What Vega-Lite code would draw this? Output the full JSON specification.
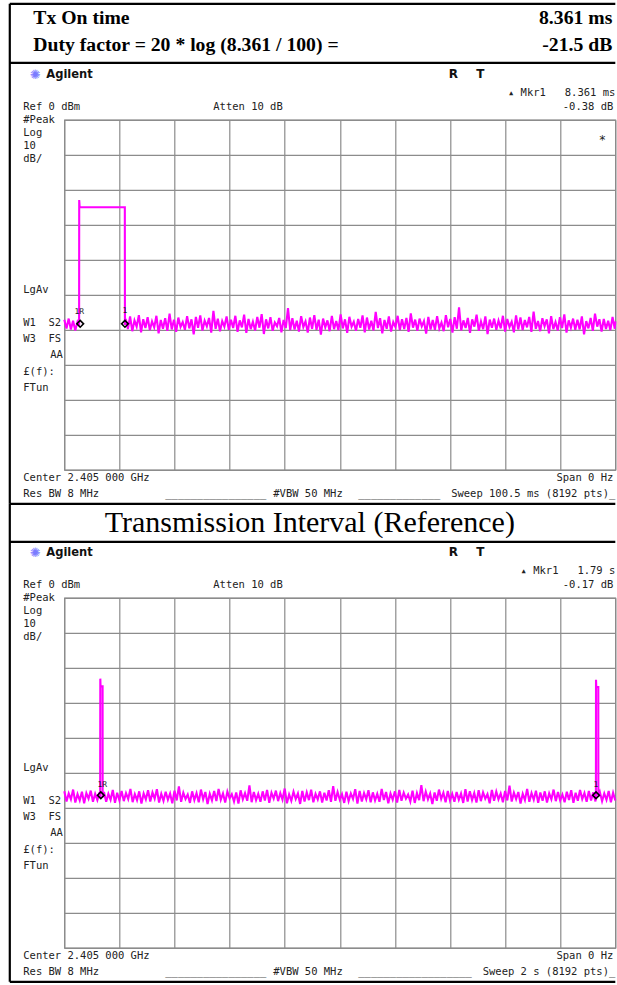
{
"$schema":"https://vega.github.io/schema/vega-lite/v6.json",
"background":"white",
"padding":{"left":7.3,"top":1.8,"right":0,"bottom":0},
"autosize":{"type":"pad"},
"bounds":"flush",
"spacing":128,
"config":{"view":{"stroke":"#8c8c8c","strokeWidth":1.2},"axis":{"grid":true,"gridColor":"#8c8c8c","gridWidth":1.2,"gridOpacity":1,"labels":false,"ticks":false,"domain":false}},
"datasets":{
"b1":[{"t":-9.941,"t2":100.5,"v":33.143,"v2":33.143},{"t":-9.941,"t2":100.5,"v":16.286,"v2":16.286},{"t":-9.941,"t2":-9.941,"v":33.143,"v2":-109.714},{"t":-9.941,"t2":100.5,"v":-109.714,"v2":-109.714}],
"b2":[{"t":-197.82,"t2":2000,"v":16.0,"v2":16.0},{"t":-197.82,"t2":2000,"v":-109.714,"v2":-109.714},{"t":-197.82,"t2":-197.82,"v":26.857,"v2":-109.714}],
"m1":[{"t":2.9,"v":-58.3},{"t":11.06,"v":-58.3}],
"m2":[{"t":132.5,"v":-56.4},{"t":1930,"v":-56.4}],
"a1":[
{"g":"mL","s":"Ref 0 dBm","t":-7.478,"v":3.571},
{"g":"mL","s":"Atten 10 dB","t":27.177,"v":3.571},
{"g":"mL","s":"#Peak","t":-7.478,"v":-0.143},
{"g":"mL","s":"Log","t":-7.478,"v":-3.857},
{"g":"mL","s":"10","t":-7.478,"v":-7.571},
{"g":"mL","s":"dB/","t":-7.478,"v":-11.286},
{"g":"mL","s":"LgAv","t":-7.478,"v":-48.571},
{"g":"mL","s":"W1\u00a0\u00a0S2","t":-7.478,"v":-58.0},
{"g":"mL","s":"W3\u00a0\u00a0FS","t":-7.478,"v":-62.571},
{"g":"mR","s":"AA","t":-0.274,"v":-67.143},
{"g":"mL","s":"£(f):","t":-7.478,"v":-72.0},
{"g":"mL","s":"FTun","t":-7.478,"v":-76.714},
{"g":"mL","s":"Center 2.405 000 GHz","t":-7.478,"v":-102.286},
{"g":"mL","s":"Res BW 8 MHz","t":-7.478,"v":-106.857},
{"g":"mL","s":"________________","t":18.422,"v":-106.857},
{"g":"mL","s":"#VBW 50 MHz","t":38.121,"v":-106.857},
{"g":"mL","s":"_____________","t":53.624,"v":-106.857},
{"g":"mR","s":"▴ Mkr1\u00a0\u00a0\u00a08.361 ms","t":100.5,"v":7.714},
{"g":"mR","s":"-0.38 dB","t":100.135,"v":3.571},
{"g":"mR","s":"Span 0 Hz","t":100.135,"v":-102.286},
{"g":"mR","s":"Sweep 100.5 ms (8192 pts)_","t":100.5,"v":-106.857},
{"g":"ag","s":"Agilent","t":-3.283,"v":12.857},
{"g":"logo","s":"✺","t":-5.290,"v":12.857},
{"g":"rt","s":"R","t":70.952,"v":13.0},
{"g":"rt","s":"T","t":75.876,"v":13.0},
{"g":"ast","s":"*","t":98.129,"v":-5.714},
{"g":"hL","s":"Tx On time","t":-5.654,"v":29.143},
{"g":"hL","s":"Duty factor = 20 * log (8.361 / 100) =","t":-5.654,"v":21.429},
{"g":"hR","s":"8.361 ms","t":99.953,"v":29.143},
{"g":"hR","s":"-21.5 dB","t":99.953,"v":21.429},
{"g":"tiny","s":"1R","t":2.75,"v":-55.0},
{"g":"tiny","s":"1","t":11.06,"v":-54.6}
],
"a2":[
{"g":"mL","s":"Ref 0 dBm","t":-148.82,"v":3.571},
{"g":"mL","s":"Atten 10 dB","t":540.83,"v":3.571},
{"g":"mL","s":"#Peak","t":-148.82,"v":-0.143},
{"g":"mL","s":"Log","t":-148.82,"v":-3.857},
{"g":"mL","s":"10","t":-148.82,"v":-7.571},
{"g":"mL","s":"dB/","t":-148.82,"v":-11.286},
{"g":"mL","s":"LgAv","t":-148.82,"v":-48.571},
{"g":"mL","s":"W1\u00a0\u00a0S2","t":-148.82,"v":-58.0},
{"g":"mL","s":"W3\u00a0\u00a0FS","t":-148.82,"v":-62.571},
{"g":"mR","s":"AA","t":-5.44,"v":-67.143},
{"g":"mL","s":"£(f):","t":-148.82,"v":-72.0},
{"g":"mL","s":"FTun","t":-148.82,"v":-76.714},
{"g":"mL","s":"Center 2.405 000 GHz","t":-148.82,"v":-102.286},
{"g":"mL","s":"Res BW 8 MHz","t":-148.82,"v":-106.857},
{"g":"mL","s":"________________","t":366.61,"v":-106.857},
{"g":"mL","s":"#VBW 50 MHz","t":758.62,"v":-106.857},
{"g":"mL","s":"__________________","t":1067.15,"v":-106.857},
{"g":"mR","s":"▴ Mkr1\u00a0\u00a0\u00a01.79 s","t":2000,"v":7.714},
{"g":"mR","s":"-0.17 dB","t":1992.74,"v":3.571},
{"g":"mR","s":"Span 0 Hz","t":1992.74,"v":-102.286},
{"g":"mR","s":"Sweep 2 s (8192 pts)_","t":2000,"v":-106.857},
{"g":"ag","s":"Agilent","t":-65.34,"v":12.857},
{"g":"logo","s":"✺","t":-105.26,"v":12.857},
{"g":"rt","s":"R","t":1411.98,"v":13.0},
{"g":"rt","s":"T","t":1509.98,"v":13.0},
{"g":"title","s":"Transmission Interval (Reference)","t":891.11,"v":21.429},
{"g":"tiny","s":"1R","t":137.9,"v":-53.4},
{"g":"tiny","s":"1","t":1930,"v":-53.5}
],
"tr1":[
{"t":0,"v":-57.1},{"t":0.4,"v":-59.6},{"t":0.8,"v":-56.8},{"t":1.2,"v":-59.9},{"t":1.6,"v":-57.4},{"t":2.0,"v":-60.2},{"t":2.4,"v":-57.8},
{"t":2.7,"v":-58.8},{"t":2.72,"v":-22.9},{"t":2.8,"v":-25.0},{"t":11.04,"v":-25.0},{"t":11.06,"v":-58.6},
{"t":11.2,"v":-56.9},{"t":11.6,"v":-59.8},{"t":12,"v":-56.2},{"t":12.4,"v":-60.4},{"t":12.8,"v":-57.3},{"t":13.2,"v":-59.1},{"t":13.6,"v":-55.8},{"t":14,"v":-60.7},{"t":14.4,"v":-57.0},{"t":14.8,"v":-59.5},
{"t":15.2,"v":-56.4},{"t":15.6,"v":-60.1},{"t":16,"v":-57.6},{"t":16.4,"v":-59.3},{"t":16.8,"v":-56.0},{"t":17.2,"v":-61.0},{"t":17.6,"v":-57.2},{"t":18,"v":-59.7},{"t":18.4,"v":-56.7},{"t":18.8,"v":-60.3},
{"t":19.2,"v":-55.4},{"t":19.6,"v":-59.9},{"t":20,"v":-57.1},{"t":20.4,"v":-60.6},{"t":20.8,"v":-56.5},{"t":21.2,"v":-59.2},{"t":21.6,"v":-57.8},{"t":22,"v":-60.0},{"t":22.4,"v":-56.1},{"t":22.8,"v":-59.6},
{"t":23.2,"v":-57.0},{"t":23.6,"v":-61.3},{"t":24,"v":-56.3},{"t":24.4,"v":-59.4},{"t":24.8,"v":-55.9},{"t":25.2,"v":-60.2},{"t":25.6,"v":-57.4},{"t":26,"v":-59.0},{"t":26.4,"v":-56.6},{"t":26.8,"v":-60.8},
{"t":27.2,"v":-54.6},{"t":27.6,"v":-59.7},{"t":28,"v":-56.8},{"t":28.4,"v":-60.4},{"t":28.8,"v":-57.5},{"t":29.2,"v":-59.1},{"t":29.6,"v":-56.2},{"t":30,"v":-60.0},{"t":30.4,"v":-57.1},{"t":30.8,"v":-59.5},
{"t":31.2,"v":-56.0},{"t":31.6,"v":-60.6},{"t":32,"v":-57.3},{"t":32.4,"v":-59.3},{"t":32.8,"v":-55.7},{"t":33.2,"v":-60.9},{"t":33.6,"v":-56.9},{"t":34,"v":-59.8},{"t":34.4,"v":-57.7},{"t":34.8,"v":-60.2},
{"t":35.2,"v":-56.3},{"t":35.6,"v":-59.4},{"t":36,"v":-55.5},{"t":36.4,"v":-61.2},{"t":36.8,"v":-57.0},{"t":37.2,"v":-59.6},{"t":37.6,"v":-56.4},{"t":38,"v":-60.3},{"t":38.4,"v":-57.9},{"t":38.8,"v":-59.0},
{"t":39.2,"v":-56.6},{"t":39.6,"v":-60.7},{"t":40,"v":-57.2},{"t":40.4,"v":-59.5},{"t":40.8,"v":-53.8},{"t":41.2,"v":-60.1},{"t":41.6,"v":-56.7},{"t":42,"v":-59.9},{"t":42.4,"v":-57.4},{"t":42.8,"v":-60.5},
{"t":43.2,"v":-56.1},{"t":43.6,"v":-59.2},{"t":44,"v":-57.6},{"t":44.4,"v":-60.8},{"t":44.8,"v":-56.5},{"t":45.2,"v":-59.7},{"t":45.6,"v":-55.8},{"t":46,"v":-60.0},{"t":46.4,"v":-57.1},{"t":46.8,"v":-61.4},
{"t":47.2,"v":-56.8},{"t":47.6,"v":-59.3},{"t":48,"v":-57.3},{"t":48.4,"v":-60.4},{"t":48.8,"v":-56.0},{"t":49.2,"v":-59.8},{"t":49.6,"v":-57.5},{"t":50,"v":-60.1},{"t":50.4,"v":-55.6},{"t":50.8,"v":-59.6},
{"t":51.2,"v":-57.0},{"t":51.6,"v":-60.9},{"t":52,"v":-56.3},{"t":52.4,"v":-59.1},{"t":52.8,"v":-57.7},{"t":53.2,"v":-60.3},{"t":53.6,"v":-56.9},{"t":54,"v":-59.4},{"t":54.4,"v":-55.9},{"t":54.8,"v":-60.7},
{"t":55.2,"v":-56.5},{"t":55.6,"v":-59.9},{"t":56,"v":-57.4},{"t":56.4,"v":-60.2},{"t":56.8,"v":-54.9},{"t":57.2,"v":-59.5},{"t":57.6,"v":-56.7},{"t":58,"v":-61.0},{"t":58.4,"v":-57.2},{"t":58.8,"v":-59.7},
{"t":59.2,"v":-56.2},{"t":59.6,"v":-60.5},{"t":60,"v":-57.8},{"t":60.4,"v":-59.2},{"t":60.8,"v":-56.0},{"t":61.2,"v":-60.1},{"t":61.6,"v":-57.0},{"t":62,"v":-59.8},{"t":62.4,"v":-56.6},{"t":62.8,"v":-60.6},
{"t":63.2,"v":-55.3},{"t":63.6,"v":-59.4},{"t":64,"v":-57.1},{"t":64.4,"v":-60.3},{"t":64.8,"v":-56.8},{"t":65.2,"v":-59.0},{"t":65.6,"v":-57.5},{"t":66,"v":-61.1},{"t":66.4,"v":-56.3},{"t":66.8,"v":-59.9},
{"t":67.2,"v":-57.2},{"t":67.6,"v":-60.0},{"t":68,"v":-56.1},{"t":68.4,"v":-59.6},{"t":68.8,"v":-57.9},{"t":69.2,"v":-60.4},{"t":69.6,"v":-55.8},{"t":70,"v":-59.3},{"t":70.4,"v":-56.9},{"t":70.8,"v":-60.8},
{"t":71.2,"v":-56.4},{"t":71.6,"v":-59.7},{"t":72,"v":-53.6},{"t":72.4,"v":-60.2},{"t":72.8,"v":-57.3},{"t":73.2,"v":-59.5},{"t":73.6,"v":-56.6},{"t":74,"v":-60.9},{"t":74.4,"v":-57.0},{"t":74.8,"v":-59.1},
{"t":75.2,"v":-55.7},{"t":75.6,"v":-60.3},{"t":76,"v":-57.6},{"t":76.4,"v":-59.8},{"t":76.8,"v":-56.2},{"t":77.2,"v":-61.2},{"t":77.6,"v":-57.1},{"t":78,"v":-59.4},{"t":78.4,"v":-56.8},{"t":78.8,"v":-60.0},
{"t":79.2,"v":-57.4},{"t":79.6,"v":-59.6},{"t":80,"v":-56.0},{"t":80.4,"v":-60.5},{"t":80.8,"v":-56.9},{"t":81.2,"v":-59.2},{"t":81.6,"v":-57.7},{"t":82,"v":-60.7},{"t":82.4,"v":-55.9},{"t":82.8,"v":-59.9},
{"t":83.2,"v":-56.5},{"t":83.6,"v":-60.1},{"t":84,"v":-57.2},{"t":84.4,"v":-59.3},{"t":84.8,"v":-56.3},{"t":85.2,"v":-60.6},{"t":85.6,"v":-54.8},{"t":86,"v":-59.7},{"t":86.4,"v":-57.5},{"t":86.8,"v":-60.4},
{"t":87.2,"v":-56.7},{"t":87.6,"v":-59.0},{"t":88,"v":-57.0},{"t":88.4,"v":-61.0},{"t":88.8,"v":-56.1},{"t":89.2,"v":-59.8},{"t":89.6,"v":-57.8},{"t":90,"v":-60.2},{"t":90.4,"v":-56.4},{"t":90.8,"v":-59.5},
{"t":91.2,"v":-55.6},{"t":91.6,"v":-60.8},{"t":92,"v":-57.3},{"t":92.4,"v":-59.4},{"t":92.8,"v":-56.8},{"t":93.2,"v":-60.0},{"t":93.6,"v":-57.1},{"t":94,"v":-59.9},{"t":94.4,"v":-56.2},{"t":94.8,"v":-61.3},
{"t":95.2,"v":-57.5},{"t":95.6,"v":-59.6},{"t":96,"v":-56.6},{"t":96.4,"v":-60.3},{"t":96.8,"v":-55.4},{"t":97.2,"v":-59.1},{"t":97.6,"v":-57.0},{"t":98,"v":-60.5},
{"t":98.4,"v":-56.9},{"t":98.8,"v":-59.8},{"t":99.2,"v":-57.4},{"t":99.6,"v":-60.1},{"t":100,"v":-56.3},{"t":100.4,"v":-59.7},{"t":100.5,"v":-57.6}
],
"tr2":[
{"t":0,"v":-55.3},{"t":8,"v":-58.2},{"t":16,"v":-55.9},{"t":24,"v":-57.6},{"t":32,"v":-54.8},{"t":40,"v":-58.5},{"t":48,"v":-56.1},{"t":56,"v":-57.9},{"t":64,"v":-55.4},{"t":72,"v":-58.7},{"t":80,"v":-55.8},{"t":88,"v":-57.4},{"t":96,"v":-55.1},{"t":104,"v":-58.3},{"t":112,"v":-56.0},{"t":120,"v":-57.8},{"t":128,"v":-55.6},
{"t":130.2,"v":-57.2},{"t":130.7,"v":-23.1},{"t":131.6,"v":-25.3},{"t":139.0,"v":-25.3},{"t":139.2,"v":-57.0},
{"t":144,"v":-55.5},{"t":152,"v":-58.3},{"t":160,"v":-56.0},{"t":168,"v":-57.7},{"t":176,"v":-54.9},{"t":184,"v":-58.6},{"t":192,"v":-55.7},{"t":200,"v":-57.9},{"t":208,"v":-55.2},{"t":216,"v":-58.1},
{"t":224,"v":-55.8},{"t":232,"v":-57.5},{"t":240,"v":-54.6},{"t":248,"v":-58.4},{"t":256,"v":-56.1},{"t":264,"v":-57.8},{"t":272,"v":-55.3},{"t":280,"v":-58.8},{"t":288,"v":-55.9},{"t":296,"v":-57.6},
{"t":304,"v":-55.0},{"t":312,"v":-58.2},{"t":320,"v":-55.6},{"t":328,"v":-57.4},{"t":336,"v":-54.7},{"t":344,"v":-58.5},{"t":352,"v":-56.0},{"t":360,"v":-58.0},{"t":368,"v":-55.4},{"t":376,"v":-57.7},
{"t":384,"v":-55.9},{"t":392,"v":-58.7},{"t":400,"v":-55.1},{"t":408,"v":-57.9},{"t":416,"v":-53.9},{"t":424,"v":-58.3},{"t":432,"v":-55.7},{"t":440,"v":-57.5},{"t":448,"v":-56.2},{"t":456,"v":-58.6},
{"t":464,"v":-55.3},{"t":472,"v":-57.8},{"t":480,"v":-55.8},{"t":488,"v":-58.4},{"t":496,"v":-54.8},{"t":504,"v":-57.6},{"t":512,"v":-55.5},{"t":520,"v":-58.9},{"t":528,"v":-56.0},{"t":536,"v":-57.9},
{"t":544,"v":-55.2},{"t":552,"v":-58.1},{"t":560,"v":-54.6},{"t":568,"v":-57.7},{"t":576,"v":-55.9},{"t":584,"v":-58.5},{"t":592,"v":-55.4},{"t":600,"v":-57.3},{"t":608,"v":-56.1},{"t":616,"v":-58.2},
{"t":624,"v":-55.6},{"t":632,"v":-58.8},{"t":640,"v":-55.0},{"t":648,"v":-57.6},{"t":656,"v":-55.8},{"t":664,"v":-58.0},{"t":672,"v":-53.6},{"t":680,"v":-58.4},{"t":688,"v":-55.5},{"t":696,"v":-57.8},
{"t":704,"v":-56.0},{"t":712,"v":-58.3},{"t":720,"v":-55.3},{"t":728,"v":-57.9},{"t":736,"v":-54.9},{"t":744,"v":-58.6},{"t":752,"v":-55.7},{"t":760,"v":-57.4},{"t":768,"v":-55.1},{"t":776,"v":-58.1},
{"t":784,"v":-55.8},{"t":792,"v":-57.7},{"t":800,"v":-54.5},{"t":808,"v":-58.7},{"t":816,"v":-56.2},{"t":824,"v":-58.0},{"t":832,"v":-55.4},{"t":840,"v":-57.5},{"t":848,"v":-55.9},{"t":856,"v":-58.9},
{"t":864,"v":-55.2},{"t":872,"v":-58.2},{"t":880,"v":-55.6},{"t":888,"v":-57.8},{"t":896,"v":-54.8},{"t":904,"v":-58.4},{"t":912,"v":-56.0},{"t":920,"v":-57.6},{"t":928,"v":-55.3},{"t":936,"v":-58.5},
{"t":944,"v":-55.7},{"t":952,"v":-57.9},{"t":960,"v":-55.0},{"t":968,"v":-58.3},{"t":976,"v":-53.8},{"t":984,"v":-58.0},{"t":992,"v":-55.5},{"t":1000,"v":-57.7},{"t":1008,"v":-56.1},{"t":1016,"v":-58.6},
{"t":1024,"v":-55.4},{"t":1032,"v":-58.1},{"t":1040,"v":-55.9},{"t":1048,"v":-57.5},{"t":1056,"v":-54.7},{"t":1064,"v":-58.8},{"t":1072,"v":-55.2},{"t":1080,"v":-58.2},{"t":1088,"v":-55.8},{"t":1096,"v":-57.6},
{"t":1104,"v":-55.0},{"t":1112,"v":-58.4},{"t":1120,"v":-55.6},{"t":1128,"v":-57.9},{"t":1136,"v":-56.0},{"t":1144,"v":-58.3},{"t":1152,"v":-54.6},{"t":1160,"v":-57.8},{"t":1168,"v":-55.5},{"t":1176,"v":-58.7},
{"t":1184,"v":-55.9},{"t":1192,"v":-57.7},{"t":1200,"v":-55.3},{"t":1208,"v":-58.5},{"t":1216,"v":-54.9},{"t":1224,"v":-58.0},{"t":1232,"v":-55.7},{"t":1240,"v":-57.4},{"t":1248,"v":-56.2},{"t":1256,"v":-58.2},
{"t":1264,"v":-55.1},{"t":1272,"v":-58.6},{"t":1280,"v":-55.8},{"t":1288,"v":-57.8},{"t":1296,"v":-53.5},{"t":1304,"v":-58.1},{"t":1312,"v":-55.4},{"t":1320,"v":-57.6},{"t":1328,"v":-55.9},{"t":1336,"v":-58.9},
{"t":1344,"v":-55.6},{"t":1352,"v":-58.0},{"t":1360,"v":-54.8},{"t":1368,"v":-57.5},{"t":1376,"v":-55.7},{"t":1384,"v":-58.4},{"t":1392,"v":-55.2},{"t":1400,"v":-57.9},{"t":1408,"v":-56.0},{"t":1416,"v":-58.3},
{"t":1424,"v":-55.5},{"t":1432,"v":-57.7},{"t":1440,"v":-55.9},{"t":1448,"v":-58.6},{"t":1456,"v":-54.7},{"t":1464,"v":-58.2},{"t":1472,"v":-55.3},{"t":1480,"v":-57.8},{"t":1488,"v":-55.8},{"t":1496,"v":-58.5},
{"t":1504,"v":-55.0},{"t":1512,"v":-58.1},{"t":1520,"v":-55.6},{"t":1528,"v":-57.4},{"t":1536,"v":-56.1},{"t":1544,"v":-58.7},{"t":1552,"v":-54.9},{"t":1560,"v":-58.0},{"t":1568,"v":-55.4},{"t":1576,"v":-57.6},
{"t":1584,"v":-55.9},{"t":1592,"v":-58.4},{"t":1600,"v":-55.2},{"t":1608,"v":-57.9},{"t":1616,"v":-53.7},{"t":1624,"v":-58.2},{"t":1632,"v":-55.7},{"t":1640,"v":-57.5},{"t":1648,"v":-55.5},{"t":1656,"v":-58.8},
{"t":1664,"v":-56.0},{"t":1672,"v":-57.8},{"t":1680,"v":-54.6},{"t":1688,"v":-58.3},{"t":1696,"v":-55.8},{"t":1704,"v":-57.7},{"t":1712,"v":-55.1},{"t":1720,"v":-58.6},{"t":1728,"v":-55.6},{"t":1736,"v":-58.0},
{"t":1744,"v":-55.3},{"t":1752,"v":-58.5},{"t":1760,"v":-55.9},{"t":1768,"v":-57.6},{"t":1776,"v":-54.8},{"t":1784,"v":-58.1},{"t":1792,"v":-55.5},{"t":1800,"v":-57.9},{"t":1808,"v":-56.2},{"t":1816,"v":-58.4},
{"t":1824,"v":-55.4},{"t":1832,"v":-57.8},{"t":1840,"v":-55.0},{"t":1848,"v":-58.6},{"t":1856,"v":-55.7},{"t":1864,"v":-58.0},{"t":1872,"v":-54.9},{"t":1880,"v":-57.5},
{"t":1888,"v":-55.8},{"t":1896,"v":-58.3},{"t":1904,"v":-55.2},{"t":1912,"v":-57.9},{"t":1920,"v":-55.6},{"t":1928,"v":-58.2},
{"t":1929.6,"v":-57.0},{"t":1930.0,"v":-23.4},{"t":1931.0,"v":-25.5},{"t":1938.3,"v":-25.5},{"t":1938.5,"v":-56.8},
{"t":1944,"v":-55.5},{"t":1952,"v":-58.1},{"t":1960,"v":-55.9},{"t":1968,"v":-57.7},{"t":1976,"v":-55.2},{"t":1984,"v":-58.4},{"t":1992,"v":-55.7},{"t":2000,"v":-57.9}
]
},
"vconcat":[
{
"width":551,"height":350,
"encoding":{
 "x":{"field":"t","type":"quantitative","scale":{"domain":[0,100.5],"nice":false,"zero":false},"axis":{"title":null,"tickCount":11,"values":[0,10.05,20.1,30.15,40.2,50.25,60.3,70.35,80.4,90.45,100.5]}},
 "y":{"field":"v","type":"quantitative","scale":{"domain":[-100,0],"nice":false,"zero":false},"axis":{"title":null,"tickCount":11,"values":[-100,-90,-80,-70,-60,-50,-40,-30,-20,-10,0]}}
},
"layer":[
{"data":{"name":"b1"},"mark":{"type":"rule","color":"#000","strokeWidth":2.2},"encoding":{"x2":{"field":"t2"},"y2":{"field":"v2"}}},
{"data":{"name":"tr1"},"mark":{"type":"line","color":"#ff00ff","strokeWidth":2.1,"strokeJoin":"miter"},"encoding":{}},
{"data":{"name":"m1"},"mark":{"type":"point","shape":"diamond","filled":false,"color":"#000","strokeWidth":1.6,"size":45,"opacity":1},"encoding":{}},
{"data":{"name":"a1"},"transform":[{"filter":"datum.g==='mL'"}],"mark":{"type":"text","align":"left","baseline":"middle","font":"DejaVu Sans Mono","fontSize":10.5,"color":"#222"},"encoding":{"text":{"field":"s"}}},
{"data":{"name":"a1"},"transform":[{"filter":"datum.g==='mR'"}],"mark":{"type":"text","align":"right","baseline":"middle","font":"DejaVu Sans Mono","fontSize":10.5,"color":"#222"},"encoding":{"text":{"field":"s"}}},
{"data":{"name":"a1"},"transform":[{"filter":"datum.g==='ag'"}],"mark":{"type":"text","align":"left","baseline":"middle","font":"DejaVu Sans","fontWeight":"bold","fontSize":11.5,"color":"#111"},"encoding":{"text":{"field":"s"}}},
{"data":{"name":"a1"},"transform":[{"filter":"datum.g==='logo'"}],"mark":{"type":"text","align":"center","baseline":"middle","font":"DejaVu Sans","fontSize":13,"color":"#7b7bff"},"encoding":{"text":{"field":"s"}}},
{"data":{"name":"a1"},"transform":[{"filter":"datum.g==='rt'"}],"mark":{"type":"text","align":"center","baseline":"middle","font":"DejaVu Sans","fontWeight":"bold","fontSize":12,"color":"#111"},"encoding":{"text":{"field":"s"}}},
{"data":{"name":"a1"},"transform":[{"filter":"datum.g==='ast'"}],"mark":{"type":"text","align":"center","baseline":"middle","font":"DejaVu Sans Mono","fontSize":12,"color":"#222"},"encoding":{"text":{"field":"s"}}},
{"data":{"name":"a1"},"transform":[{"filter":"datum.g==='tiny'"}],"mark":{"type":"text","align":"center","baseline":"middle","font":"DejaVu Sans Mono","fontSize":8,"color":"#222"},"encoding":{"text":{"field":"s"}}},
{"data":{"name":"a1"},"transform":[{"filter":"datum.g==='hL'"}],"mark":{"type":"text","align":"left","baseline":"middle","font":"Liberation Serif","fontWeight":"bold","fontSize":19.7,"color":"#000"},"encoding":{"text":{"field":"s"}}},
{"data":{"name":"a1"},"transform":[{"filter":"datum.g==='hR'"}],"mark":{"type":"text","align":"right","baseline":"middle","font":"Liberation Serif","fontWeight":"bold","fontSize":19.7,"color":"#000"},"encoding":{"text":{"field":"s"}}}
]
},
{
"width":551,"height":350,
"encoding":{
 "x":{"field":"t","type":"quantitative","scale":{"domain":[0,2000],"nice":false,"zero":false},"axis":{"title":null,"tickCount":11,"values":[0,200,400,600,800,1000,1200,1400,1600,1800,2000]}},
 "y":{"field":"v","type":"quantitative","scale":{"domain":[-100,0],"nice":false,"zero":false},"axis":{"title":null,"tickCount":11,"values":[-100,-90,-80,-70,-60,-50,-40,-30,-20,-10,0]}}
},
"layer":[
{"data":{"name":"b2"},"mark":{"type":"rule","color":"#000","strokeWidth":2.2},"encoding":{"x2":{"field":"t2"},"y2":{"field":"v2"}}},
{"data":{"name":"tr2"},"mark":{"type":"line","color":"#ff00ff","strokeWidth":2.1,"strokeJoin":"miter"},"encoding":{}},
{"data":{"name":"m2"},"mark":{"type":"point","shape":"diamond","filled":false,"color":"#000","strokeWidth":1.6,"size":45,"opacity":1},"encoding":{}},
{"data":{"name":"a2"},"transform":[{"filter":"datum.g==='mL'"}],"mark":{"type":"text","align":"left","baseline":"middle","font":"DejaVu Sans Mono","fontSize":10.5,"color":"#222"},"encoding":{"text":{"field":"s"}}},
{"data":{"name":"a2"},"transform":[{"filter":"datum.g==='mR'"}],"mark":{"type":"text","align":"right","baseline":"middle","font":"DejaVu Sans Mono","fontSize":10.5,"color":"#222"},"encoding":{"text":{"field":"s"}}},
{"data":{"name":"a2"},"transform":[{"filter":"datum.g==='ag'"}],"mark":{"type":"text","align":"left","baseline":"middle","font":"DejaVu Sans","fontWeight":"bold","fontSize":11.5,"color":"#111"},"encoding":{"text":{"field":"s"}}},
{"data":{"name":"a2"},"transform":[{"filter":"datum.g==='logo'"}],"mark":{"type":"text","align":"center","baseline":"middle","font":"DejaVu Sans","fontSize":13,"color":"#7b7bff"},"encoding":{"text":{"field":"s"}}},
{"data":{"name":"a2"},"transform":[{"filter":"datum.g==='rt'"}],"mark":{"type":"text","align":"center","baseline":"middle","font":"DejaVu Sans","fontWeight":"bold","fontSize":12,"color":"#111"},"encoding":{"text":{"field":"s"}}},
{"data":{"name":"a2"},"transform":[{"filter":"datum.g==='tiny'"}],"mark":{"type":"text","align":"center","baseline":"middle","font":"DejaVu Sans Mono","fontSize":8,"color":"#222"},"encoding":{"text":{"field":"s"}}},
{"data":{"name":"a2"},"transform":[{"filter":"datum.g==='title'"}],"mark":{"type":"text","align":"center","baseline":"middle","font":"Liberation Serif","fontSize":30,"color":"#000"},"encoding":{"text":{"field":"s"}}}
]
}
]
}
